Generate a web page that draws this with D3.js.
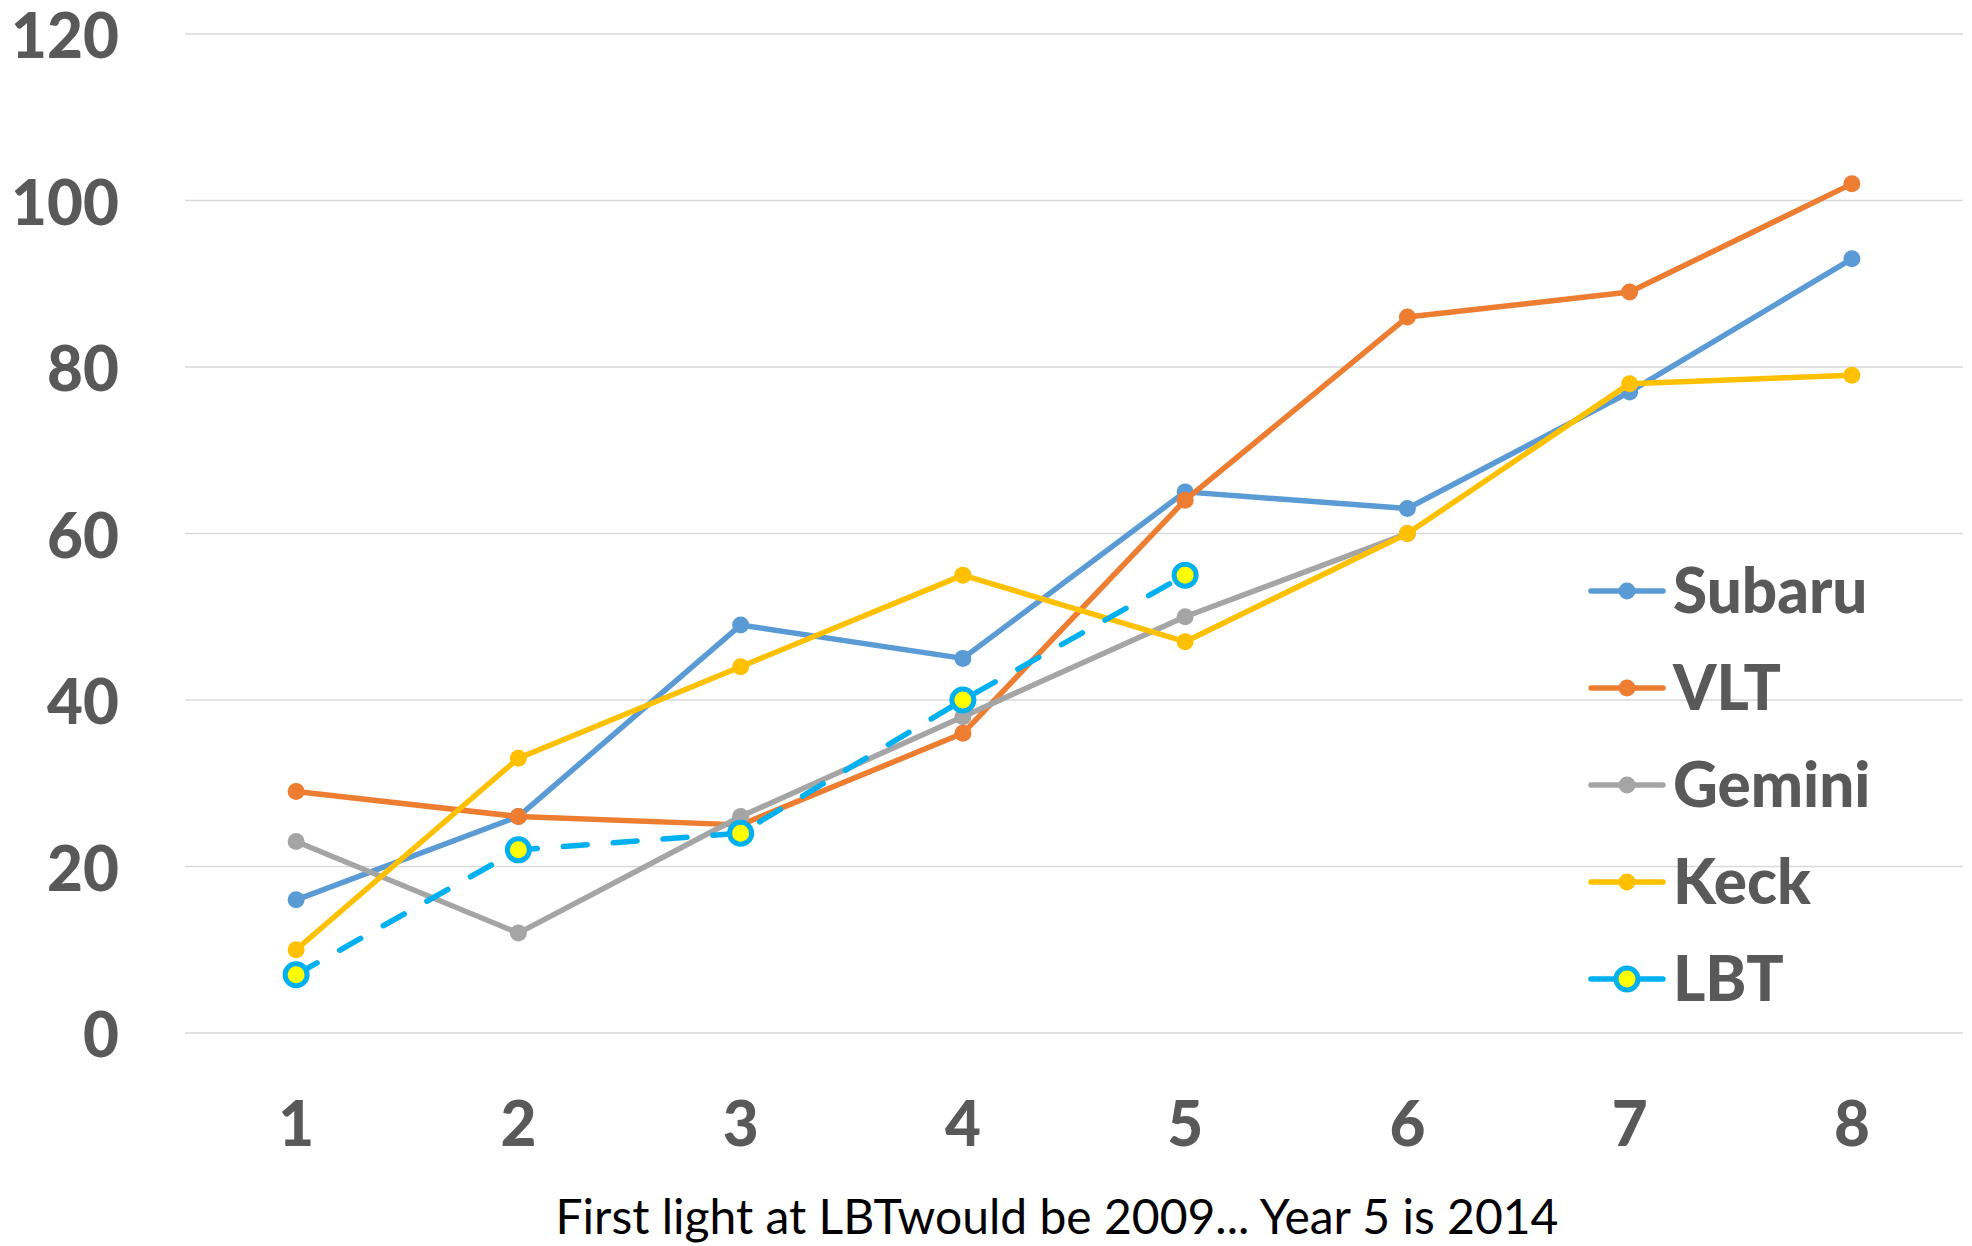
<!DOCTYPE html>
<html>
<head>
<meta charset="utf-8">
<script src="https://cdn.jsdelivr.net/npm/d3@7"></script>
<style>
  body { margin: 0; background: #fff; }
  svg { display: block; }
</style>
</head>
<body>
<div class="chart-area"></div>
<script>
const width = 1972
const height = 1246
const margin = { top: 34, right: 9, bottom: 213, left: 185 }

// data
const years = [1, 2, 3, 4, 5, 6, 7, 8]
const subaru = [16, 26, 49, 45, 65, 63, 77, 93]
const vlt = [29, 26, 25, 36, 64, 86, 89, 102]
const gemini = [23, 12, 26, 38, 50, 60]
const keck = [10, 33, 44, 55, 47, 60, 78, 79]
const lbt = [7, 22, 24, 40, 55]
const yTicks = [0, 20, 40, 60, 80, 100, 120]
const xTitle = 'First light at LBTwould be 2009... Year 5 is 2014'

const series = [
    { name: 'Subaru', values: subaru, color: '#5B9BD5' },
    { name: 'VLT', values: vlt, color: '#ED7D31' },
    { name: 'Gemini', values: gemini, color: '#A5A5A5' },
    { name: 'Keck', values: keck, color: '#FFC000' },
    { name: 'LBT', values: lbt, color: '#00B0F0', dashed: true }
]

const svg = d3.select('.chart-area').append('svg')
    .attr('width', width)
    .attr('height', height)
    .attr('viewBox', [0, 0, width, height])

const x = d3.scaleBand()
    .domain(years)
    .range([margin.left, width - margin.right])

const y = d3.scaleLinear()
    .domain([0, 120])
    .range([height - margin.bottom, margin.top])

const xc = d => x(d) + x.bandwidth() / 2

// gridlines
svg.append('g')
    .selectAll('line')
    .data(yTicks)
    .join('line')
    .attr('x1', margin.left)
    .attr('x2', width - margin.right)
    .attr('y1', d => y(d))
    .attr('y2', d => y(d))
    .attr('stroke', '#D9D9D9')
    .attr('stroke-width', 1.5)

// y axis labels
const yAxis = svg.append('g')
    .attr('transform', `translate(${margin.left - 66},0)`)
    .call(d3.axisLeft(y).tickValues(yTicks).tickSize(0).tickPadding(0))
yAxis.select('.domain').remove()
yAxis.selectAll('text')
    .attr('font-family', 'Lato, sans-serif')
    .attr('font-weight', 900)
    .attr('font-size', 62)
    .attr('fill', '#595959')
    .attr('dy', '0.38em')

// x axis labels
const xAxis = svg.append('g')
    .attr('transform', `translate(0,${height - margin.bottom + 66})`)
    .call(d3.axisBottom(x).tickSize(0).tickPadding(0))
xAxis.select('.domain').remove()
xAxis.selectAll('text')
    .attr('font-family', 'Lato, sans-serif')
    .attr('font-weight', 900)
    .attr('font-size', 62)
    .attr('fill', '#595959')
    .attr('dy', '0.75em')

svg.append('text')
    .attr('x', 1057)
    .attr('y', 1234)
    .attr('text-anchor', 'middle')
    .attr('font-family', 'Lato, sans-serif')
    .attr('font-size', 48)
    .attr('fill', '#000')
    .text(xTitle)

// lines + markers
const line = d3.line()
    .x((d, i) => xc(years[i]))
    .y(d => y(d))

series.forEach(s => {
    const g = svg.append('g')
    g.append('path')
        .datum(s.values)
        .attr('d', line)
        .attr('fill', 'none')
        .attr('stroke', s.color)
        .attr('stroke-width', 5.5)
        .attr('stroke-linejoin', 'round')
        .attr('stroke-linecap', 'round')
        .attr('stroke-dasharray', s.dashed ? '24,26' : null)

    g.selectAll('circle')
        .data(s.values)
        .join('circle')
        .attr('cx', (d, i) => xc(years[i]))
        .attr('cy', d => y(d))
        .attr('r', s.dashed ? 11 : 8.5)
        .attr('fill', s.dashed ? '#FFFF00' : s.color)
        .attr('stroke', s.dashed ? s.color : 'none')
        .attr('stroke-width', s.dashed ? 5 : 0)
})

// legend
const legend = svg.append('g')
    .attr('transform', 'translate(1591,591)')

const item = legend.selectAll('g')
    .data(series)
    .join('g')
    .attr('transform', (d, i) => `translate(0,${i * 97})`)

item.append('line')
    .attr('x1', 0)
    .attr('x2', 72)
    .attr('stroke', d => d.color)
    .attr('stroke-width', 5.5)
    .attr('stroke-linecap', 'round')

item.append('circle')
    .attr('cx', 36)
    .attr('r', d => d.dashed ? 11 : 8.5)
    .attr('fill', d => d.dashed ? '#FFFF00' : d.color)
    .attr('stroke', d => d.dashed ? d.color : 'none')
    .attr('stroke-width', d => d.dashed ? 5 : 0)

item.append('text')
    .attr('x', 82)
    .attr('dy', '0.36em')
    .attr('font-family', 'Lato, sans-serif')
    .attr('font-weight', 900)
    .attr('font-size', 62)
    .attr('fill', '#595959')
    .text(d => d.name)
</script>
</body>
</html>
